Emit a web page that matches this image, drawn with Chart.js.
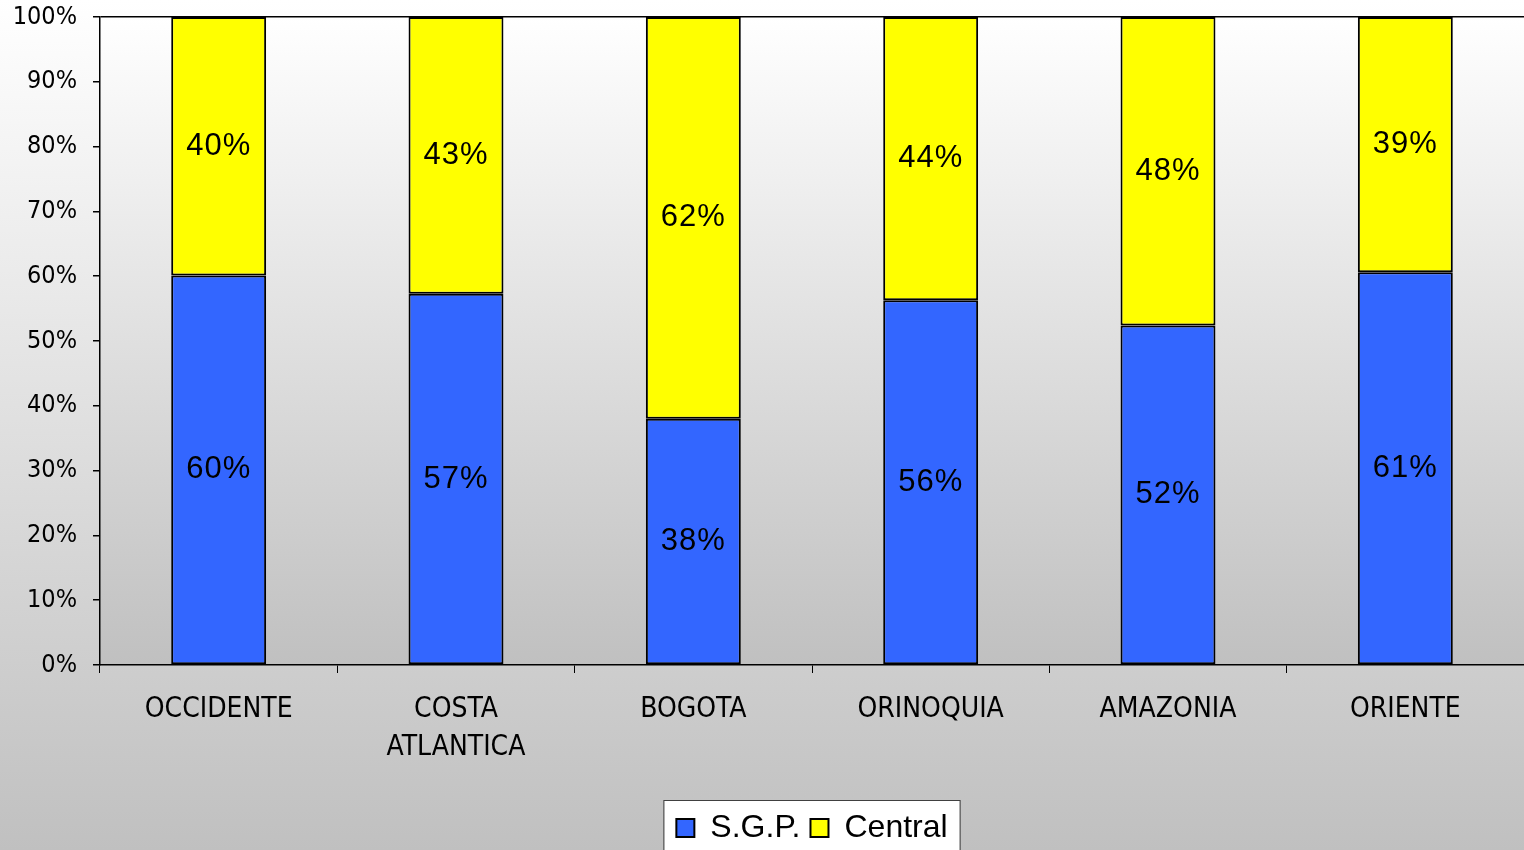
<!DOCTYPE html>
<html>
<head>
<meta charset="utf-8">
<script src="https://cdn.jsdelivr.net/npm/chart.js@4/dist/chart.umd.min.js"></script>
<style>
  html, body { margin: 0; padding: 0; background: #fff; }
  #wrap { width: 1524px; height: 850px; }
</style>
</head>
<body>
<div id="wrap"><canvas id="mixChart" width="1524" height="850"></canvas></div>
<script>
// regions and shares (percent of total)
const regions = ['OCCIDENTE', ['COSTA', 'ATLANTICA'], 'BOGOTA', 'ORINOQUIA', 'AMAZONIA', 'ORIENTE'];
const sgpShare = [60.1, 57.3, 38.0, 56.3, 52.4, 60.6];
const centralShare = [39.9, 42.7, 62.0, 43.7, 47.6, 39.4];
const yTicks = [0, 10, 20, 30, 40, 50, 60, 70, 80, 90, 100];

const narrow = "'Liberation Sans Narrow', 'DejaVu Sans Condensed', 'Liberation Sans', sans-serif";
const plain = "'Liberation Sans', Arial, sans-serif";

// page + plot area gradients
const backdrop = {
    id: 'backdrop',
    beforeDraw(chart) {
        const c = chart.ctx;
        const a = chart.chartArea;
        c.save();
        let g = c.createLinearGradient(0, 0, 0, chart.height);
        g.addColorStop(0, '#ffffff');
        g.addColorStop(1, '#c0c0c0');
        c.fillStyle = g;
        c.fillRect(0, 0, chart.width, chart.height);

        g = c.createLinearGradient(0, a.top, 0, a.bottom);
        g.addColorStop(0, '#ffffff');
        g.addColorStop(1, '#c0c0c0');
        c.fillStyle = g;
        c.fillRect(a.left, a.top, a.right - a.left, a.bottom - a.top);

        // white framed box behind the legend
        const boxes = chart.legend.legendHitBoxes;
        if (boxes && boxes.length) {
            const minX = Math.min(...boxes.map(b => b.left));
            const maxX = Math.max(...boxes.map(b => b.left + b.width));
            const mid = boxes[0].top + boxes[0].height / 2;
            c.fillStyle = '#ffffff';
            c.strokeStyle = '#404040';
            c.lineWidth = 1;
            c.fillRect(minX - 12, mid - 28, maxX - minX + 24, 60);
            c.strokeRect(minX - 12.5, mid - 27.5, maxX - minX + 25, 60);
        }
        c.restore();
    }
};

// percent labels centred in each segment
const segLabels = {
    id: 'segLabels',
    afterDatasetsDraw(chart) {
        const c = chart.ctx;
        c.save();
        c.font = '31px ' + plain;
        c.letterSpacing = '1px';
        c.fillStyle = '#000';
        c.textAlign = 'center';
        c.textBaseline = 'middle';
        chart.data.datasets.forEach((ds, i) => {
            chart.getDatasetMeta(i).data.forEach((bar, j) => {
                const mid = (bar.y + bar.base) / 2;
                c.fillText(Math.round(ds.data[j]) + '%', bar.x, mid);
            });
        });
        c.restore();
    }
};

const ctx = document.getElementById('mixChart').getContext('2d');
new Chart(ctx, {
    type: 'bar',
    data: {
        labels: regions,
        datasets: [
            {
                label: 'S.G.P.',
                data: sgpShare,
                backgroundColor: '#3366ff',
                borderColor: '#000',
                borderWidth: 2,
                borderSkipped: false,
                categoryPercentage: 0.8,
                barPercentage: 0.5
            },
            {
                label: 'Central',
                data: centralShare,
                backgroundColor: '#ffff00',
                borderColor: '#000',
                borderWidth: 2,
                borderSkipped: false,
                categoryPercentage: 0.8,
                barPercentage: 0.5
            }
        ]
    },
    options: {
        responsive: false,
        animation: false,
        layout: { padding: { top: 17, right: 0, left: 0, bottom: -4 } },
        plugins: {
            tooltip: { enabled: false },
            legend: {
                position: 'bottom',
                fullSize: false,
                labels: {
                    color: '#000',
                    font: { family: plain, size: 32 },
                    boxWidth: 18,
                    boxHeight: 18,
                    padding: 10
                }
            }
        },
        scales: {
            x: {
                stacked: true,
                afterFit: s => { s.height = 137; },
                border: { display: true, color: '#000', width: 1.5 },
                grid: {
                    drawOnChartArea: false,
                    tickLength: 8,
                    tickColor: '#000',
                    tickWidth: 1
                },
                ticks: {
                    color: '#000',
                    padding: 18,
                    maxRotation: 0,
                    autoSkip: false,
                    font: { family: narrow, size: 28, lineHeight: 38 / 28 }
                }
            },
            y: {
                stacked: true,
                min: 0,
                max: 100,
                afterFit: s => { s.width = 100; s.paddingTop = 0; s.paddingBottom = 0; },
                afterBuildTicks: s => { s.ticks = yTicks.map(v => ({ value: v })); },
                border: { display: true, color: '#000', width: 1.5 },
                grid: {
                    color: c => (c.tick && c.tick.value === 100 ? '#000' : 'rgba(0,0,0,0)'),
                    tickColor: '#000',
                    tickLength: 7,
                    lineWidth: 1.5
                },
                ticks: {
                    color: '#000',
                    padding: 16,
                    font: { family: narrow, size: 25 },
                    callback: v => v + '%'
                }
            }
        }
    },
    plugins: [backdrop, segLabels]
});
</script>
</body>
</html>
